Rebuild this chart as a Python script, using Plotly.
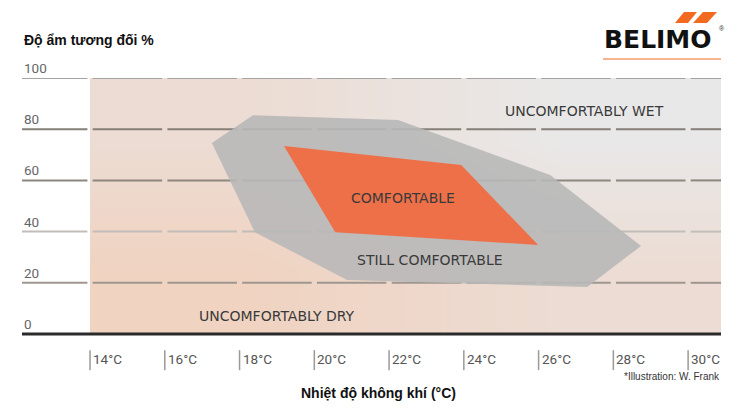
import plotly.graph_objects as go

# axis ticks
temp_ticks = [14, 16, 18, 20, 22, 24, 26, 28, 30]
temp_labels = ["14°C", "16°C", "18°C", "20°C", "22°C", "24°C", "26°C", "28°C", "30°C"]
hum_ticks = [0, 20, 40, 60, 80, 100]
hum_labels = ["0", "20", "40", "60", "80", "100"]

# zones (temperature °C, relative humidity %)
still_x = [17.26, 18.36, 22.24, 26.31, 28.74, 27.30, 20.88, 18.41]
still_y = [74.6, 85.5, 83.6, 62.1, 34.4, 18.4, 21.1, 39.8]
comf_x = [19.19, 23.93, 25.99, 20.56]
comf_y = [73.4, 66.0, 34.8, 39.8]

zone_names = ["UNCOMFORTABLY WET", "COMFORTABLE", "STILL COMFORTABLE", "UNCOMFORTABLY DRY"]
zone_x = [27.24, 22.37, 23.10, 19.0]
zone_y = [87.1, 53.1, 28.9, 7.0]

X_MIN, X_MAX = 12.18, 30.88
Y_MIN, Y_MAX = -16, 100
OFF = 8  # page body margin
W, H = 742, 401
ML, MR, MT, MB = 14, 29, 70, 34

fig = go.Figure()

# background gradient (peach bottom-left -> light grey top-right)
fig.add_trace(go.Heatmap(
    x=[14, 22.44, X_MAX], y=[0, 50, 100],
    z=[[0.0, 0.5], [0.5, 1.0]],
    zsmooth="best", showscale=False, hoverinfo="skip",
    colorscale=[[0, "#f0d3c1"], [0.5, "#ecdcd3"], [1, "#e9e8e8"]],
))

# dashed-looking gridlines (gaps at each tick)
gap = 0.07
bounds = [X_MIN] + temp_ticks + [X_MAX]
grid_colors = {20: "#9e9791", 40: "#c2bdb8", 60: "#8d8780", 80: "#857f78", 100: "#a3a3a3"}
for h in hum_ticks[1:]:
    xs, ys = [], []
    for i in range(len(bounds) - 1):
        a = bounds[i] + (gap if i > 0 else 0)
        b = bounds[i + 1] - (gap if i + 1 < len(bounds) - 1 else 0)
        xs += [a, b, None]
        ys += [h, h, None]
    fig.add_trace(go.Scatter(x=xs, y=ys, mode="lines", hoverinfo="skip",
                             line=dict(color=grid_colors[h], width=2)))

# still comfortable zone
fig.add_trace(go.Scatter(x=still_x + still_x[:1], y=still_y + still_y[:1],
                         fill="toself", fillcolor="rgba(184,184,184,0.9)",
                         mode="lines", line=dict(width=0), hoverinfo="skip"))
# comfortable zone
fig.add_trace(go.Scatter(x=comf_x + comf_x[:1], y=comf_y + comf_y[:1],
                         fill="toself", fillcolor="#ee7049",
                         mode="lines", line=dict(width=0), hoverinfo="skip"))

# baseline
fig.add_trace(go.Scatter(x=[X_MIN, X_MAX], y=[0, 0], mode="lines", hoverinfo="skip",
                         line=dict(color="#2a2a2a", width=3)))

# x tick marks below the baseline
tx, ty = [], []
for t in temp_ticks:
    tx += [t, t, None]
    ty += [-6.3, -14.1, None]
fig.add_trace(go.Scatter(x=tx, y=ty, mode="lines", hoverinfo="skip",
                         line=dict(color="#9a9a9a", width=1.5)))

ann = []
for t, lab in zip(temp_ticks, temp_labels):
    ann.append(dict(x=t, y=-9.6, text=lab, xanchor="left", yanchor="middle", xshift=1,
                    showarrow=False, font=dict(family="Roboto", size=13.5, color="#555555")))
for h, lab in zip(hum_ticks, hum_labels):
    ann.append(dict(x=0, xref="paper", y=h, text=lab, xanchor="left", yanchor="middle",
                    yshift=10, showarrow=False,
                    font=dict(family="Roboto", size=13.5, color="#666666")))
for name, zx, zy in zip(zone_names, zone_x, zone_y):
    ann.append(dict(x=zx, y=zy, text=name, showarrow=False,
                    font=dict(family="DejaVu Sans", size=14, color="#3a3a3a")))


# decoration positions given in screenshot pixels
def px(x):
    return (x - OFF - ML) / (W - ML - MR)


def py(y):
    return (H - MB - (y - OFF)) / (H - MT - MB)


ann += [
    dict(x=px(22), y=py(40), xref="paper", yref="paper", text="<b>Độ ẩm tương đối %</b>",
         xanchor="left", yanchor="middle", showarrow=False,
         font=dict(family="Liberation Sans", size=14, color="#111111")),
    dict(x=px(378), y=py(393), xref="paper", yref="paper", text="<b>Nhiệt độ không khí (°C)</b>",
         xanchor="center", yanchor="middle", showarrow=False,
         font=dict(family="Liberation Sans", size=14, color="#111111")),
    dict(x=px(722), y=py(376), xref="paper", yref="paper", text="*Illustration: W. Frank",
         xanchor="right", yanchor="middle", showarrow=False,
         font=dict(family="Liberation Sans", size=10, color="#333333")),
    dict(x=px(658), y=py(39), xref="paper", yref="paper", text="<b>BELIMO</b>",
         xanchor="center", yanchor="middle", showarrow=False,
         font=dict(family="DejaVu Sans", size=25, color="#111111")),
    dict(x=px(722), y=py(29), xref="paper", yref="paper", text="®",
         xanchor="center", yanchor="middle", showarrow=False,
         font=dict(family="Liberation Sans", size=7, color="#333333")),
]


def para(pts):
    return "M " + " L ".join(f"{px(a)},{py(b)}" for a, b in pts) + " Z"


shapes = [
    dict(type="path", xref="paper", yref="paper", line=dict(width=0), fillcolor="#f26a1f",
         path=para([(675, 23), (688, 23), (697, 12), (684, 12)])),
    dict(type="path", xref="paper", yref="paper", line=dict(width=0), fillcolor="#f26a1f",
         path=para([(693, 23), (707, 23), (717, 12), (703, 12)])),
    dict(type="line", xref="paper", yref="paper", x0=px(603), x1=px(721), y0=py(59), y1=py(59),
         line=dict(color="#f26a1f", width=1.2)),
]

fig.update_layout(
    width=W, height=H,
    margin=dict(l=ML, r=MR, t=MT, b=MB),
    paper_bgcolor="white", plot_bgcolor="white",
    showlegend=False,
    xaxis=dict(range=[X_MIN, X_MAX], visible=False, fixedrange=True),
    yaxis=dict(range=[Y_MIN, Y_MAX], visible=False, fixedrange=True),
    annotations=ann, shapes=shapes,
)

fig.write_html("out.html")
